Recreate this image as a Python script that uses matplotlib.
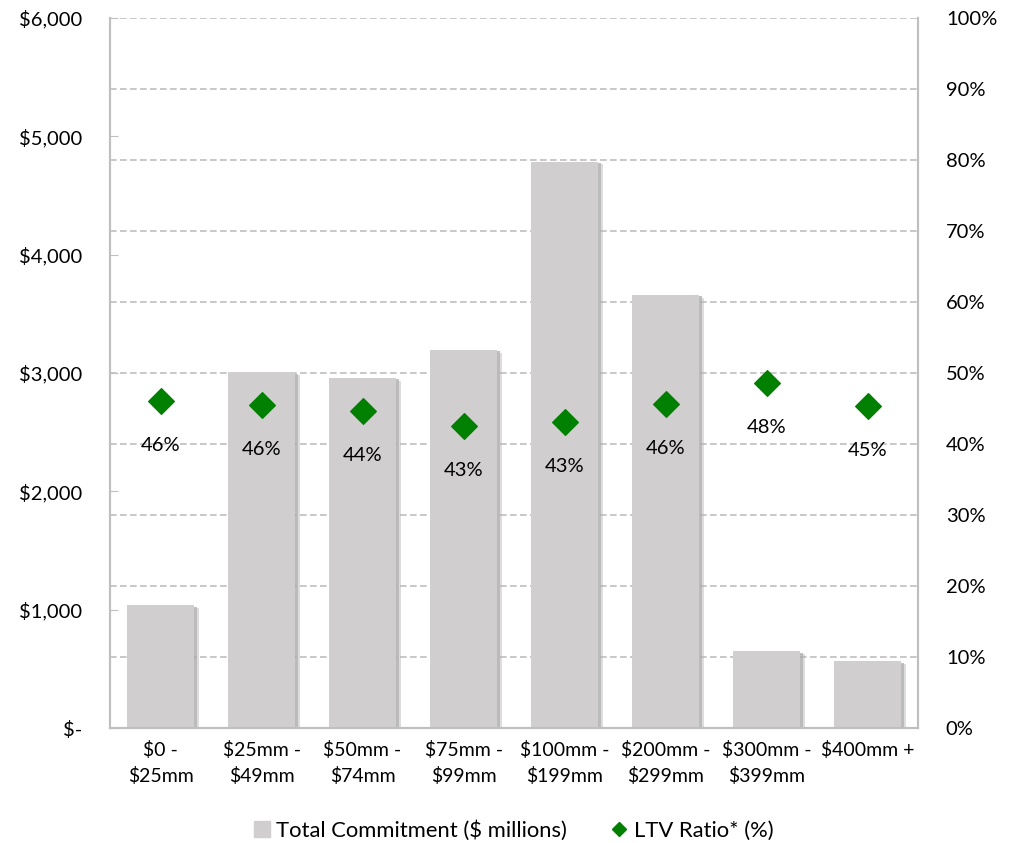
import matplotlib
matplotlib.use('Agg')
import matplotlib.pyplot as plt
from matplotlib.ticker import FuncFormatter, MultipleLocator
from matplotlib.lines import Line2D
import matplotlib.patheffects as pe

plt.rcParams['font.family'] = ['Lato', 'DejaVu Sans']

# data
categories = ["$0 -\n$25mm", "$25mm -\n$49mm", "$50mm -\n$74mm", "$75mm -\n$99mm",
              "$100mm -\n$199mm", "$200mm -\n$299mm", "$300mm -\n$399mm", "$400mm +"]
commitment = [1040, 3005, 2960, 3195, 4785, 3660, 650, 566]
ltv = [0.461, 0.455, 0.446, 0.425, 0.431, 0.456, 0.486, 0.453]
ltv_labels = ["46%", "46%", "44%", "43%", "43%", "46%", "48%", "45%"]

bar_color = '#D0CECE'
green = '#008000'
grid_color = '#BFBFBF'
fs = 14.5

fig = plt.figure(figsize=(10.1, 8.43), dpi=100)
ax = fig.add_axes([0.109, 0.136, 0.8, 0.843])
ax2 = ax.twinx()

x = list(range(len(categories)))

# bars with a soft shadow on the right like the original
bars = ax.bar(x, commitment, width=0.66, color=bar_color, zorder=3, linewidth=0)
for r in bars:
    r.set_path_effects([pe.SimplePatchShadow(offset=(2, -1), shadow_rgbFace='#999999', alpha=0.6),
                        pe.SimplePatchShadow(offset=(4, -2), shadow_rgbFace='#B5B5B5', alpha=0.45),
                        pe.Normal()])

ax.set_xlim(-0.5, len(categories) - 0.5)
ax.set_ylim(0, 6000)
ax.yaxis.set_major_locator(MultipleLocator(1000))
ax.yaxis.set_major_formatter(FuncFormatter(lambda v, p: '$-' if v == 0 else f'${v:,.0f}'))
ax.set_xticks(x)
ax.set_xticklabels(categories, fontsize=fs - 0.5, linespacing=1.55)
ax.tick_params(axis='x', length=0, pad=9)
ax.tick_params(axis='y', direction='in', length=6, color=grid_color, labelsize=fs, pad=20)

ax2.set_ylim(0, 1)
ax2.yaxis.set_major_locator(MultipleLocator(0.1))
ax2.yaxis.set_major_formatter(FuncFormatter(lambda v, p: f'{v*100:.0f}%'))
ax2.tick_params(axis='y', length=0, labelsize=fs, pad=20)
ax.set_zorder(ax2.get_zorder() - 1)
ax.patch.set_visible(False)
ax2.patch.set_visible(False)

# dashed grid follows the percent axis, drawn below the bars
for v in [i / 10 for i in range(1, 11)]:
    ax.axhline(v * 6000, color=grid_color, linestyle=(0, (4, 2)), linewidth=1.2, zorder=1)

ax2.scatter(x, ltv, marker='D', s=170, color=green, zorder=5)
for xi, v, t in zip(x, ltv, ltv_labels):
    ax2.annotate(t, (xi, v), xytext=(0, -32), textcoords='offset points',
                 ha='center', va='center', fontsize=fs)

for a in (ax, ax2):
    for s in a.spines.values():
        s.set_color(grid_color)
        s.set_linewidth(1.5)
    a.spines['top'].set_visible(False)

handles = [Line2D([], [], marker='s', color=bar_color, linestyle='none', markersize=12),
           Line2D([], [], marker='D', color=green, linestyle='none', markersize=7)]
fig.legend(handles, ['Total Commitment ($ millions)', 'LTV Ratio* (%)'], loc='center',
           bbox_to_anchor=(0.508, 0.015), ncol=2, frameon=False, fontsize=fs + 1.3,
           handlelength=0.8, handletextpad=0.25, columnspacing=2.0)

fig.savefig('out.png', dpi=100)
